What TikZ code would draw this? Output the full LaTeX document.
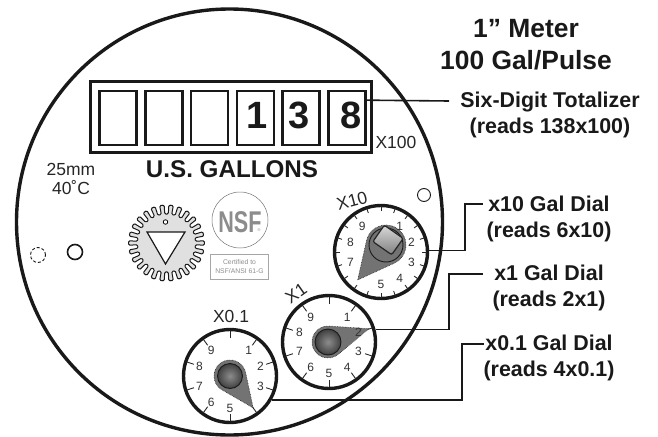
\documentclass[tikz,border=0pt]{standalone}
\usepackage{fontspec}
\setmainfont{Liberation Sans}
\usetikzlibrary{positioning}

\begin{document}
\begin{tikzpicture}[x=1pt,y=-1pt,on grid]

      \tikzset{
        meter/.style={draw={black!90},circle,inner sep=0,minimum size=426pt,line width=3.4pt},
        frame/.style={draw={black!90},rectangle,inner sep=0,minimum width=281pt,minimum height=71pt,line width=2.2pt},
        digitbox/.style={draw={black!90},rectangle,inner sep=0,minimum width=37pt,minimum height=54pt,line width=2.6pt},
        digit/.style={inner sep=0,yshift=2.5pt,font=\fontsize{38}{38}\selectfont\bfseries,text={black!90}},
        dial/.style={draw={black!90},circle,fill=white,inner sep=0,minimum size=93pt,line width=3.4pt},
        dialnum/.style={inner sep=0,font=\fontsize{12}{12}\selectfont,text={black!80}},
        tick/.style={line width=0.9pt,color={black!85}},
        pointer/.style={fill={black!55},draw={black!85},line width=0.6pt,densely dotted},
        hubball/.style={inner color={black!45},outer color={black!75}},
        hole/.style={draw={black!90},circle,inner sep=0,minimum size=15pt,line width=1.6pt},
        leader/.style={line width=1.6pt,color={black!90}},
        plain/.style={inner sep=0,font=\fontsize{17.5}{19}\selectfont,text={black!85},align=center},
        callout/.style={inner sep=0,font=\fontsize{21.4}{26}\selectfont\bfseries,text={black!90},align=center},
        title/.style={inner sep=0,font=\fontsize{26.4}{32}\selectfont\bfseries,text={black!90},align=center},
        nsfgray/.style={text={black!45}}
      }
      \useasboundingbox (0,0) rectangle (658,436);

      \node[meter] (body) at (229.5,222) {};

      % totalizer
      \node[frame] (window) at (231,117) {};
      \node[digitbox] (box1) at (118,118) {};
      \node[digitbox] (box2) [right = 45.8pt of box1] {};
      \node[digitbox] (box3) [right = 45.8pt of box2] {};
      \node[digitbox] (box4) [right = 45.8pt of box3] {};
      \node[digitbox] (box5) [right = 45.8pt of box4] {};
      \node[digitbox] (box6) [right = 45.8pt of box5] {};
      \node[digit] (num1) [right = 2pt of box4] {1};
      \node[digit] (num3) [left = 2pt of box5] {3};
      \node[digit] (num8) [right = 4.5pt of box6] {8};
      \node[plain] (xhundred) at (396,142) {X100};
      \node[inner sep=0,font=\fontsize{24.2}{24}\selectfont\bfseries,text={black!90}] (gallons) at (232,169) {U.S. GALLONS};
      \node[plain] (rating) at (71,179) {25mm\\40˚C};

      % holes
      \node[hole,densely dashed,line width=0.9pt] (holea) at (38,255) {};
      \node[hole] (holeb) at (75,252) {};
      \node[hole,line width=0.9pt,minimum size=13pt] (holec) at (424,195) {};

      % gear mark
      \coordinate (gear) at (166.5,243);
      \filldraw[fill={black!12},draw={black!90},line width=1pt,rounded corners=1.2pt]
        (gear) ++(-3.4:29)
        \foreach \i in {0,...,25} {
          \pgfextra{\pgfmathsetmacro{\a}{\i*360/26}}
          -- ([shift={(\a-3.4:29)}]gear) -- ([shift={(\a-3.4:38)}]gear)
          -- ([shift={(\a+3.4:38)}]gear) -- ([shift={(\a+3.4:29)}]gear)
        } -- cycle;
      \coordinate (triA) at (147,232);
      \coordinate (triB) at (185,232);
      \coordinate (triC) at (165.5,264);
      \filldraw[fill=white,draw={black!90},line width=1.2pt] (triA) -- (triB) -- (triC) -- cycle;
      \node[draw,circle,fill=white,inner sep=0,minimum size=4.5pt,line width=0.8pt] (gearhole) at (165.5,222) {};

      % certification
      \node[draw={black!55},circle,inner sep=0,minimum size=56pt,line width=0.5pt] (nsfring) at (240,220) {};
      \node[nsfgray,inner sep=0,font=\fontsize{30}{30}\selectfont\bfseries,xscale=0.72] (nsf) at (240,222) {NSF};
      \node[nsfgray,inner sep=0,font=\fontsize{4}{4}\selectfont] (nsfmark) at (259,230) {®};
      \node[draw={black!35},rectangle,inner sep=0,minimum width=58pt,minimum height=25pt,line width=0.8pt,
            text={black!45},font=\fontsize{6.8}{9}\selectfont,align=center] (certbox) at (239.5,267) {Certified to\\NSF/ANSI 61-G};

      % dials
      \node[dial] (dialten) at (381,252) {};
      \node[dial] (dialone) at (329,342) {};
      \node[dial] (dialtenth) at (230,376) {};
      \node[plain,rotate=15] (xten) at (352,201) {X10};
      \node[plain,rotate=35] (xone) at (296,293) {X1};
      \node[plain] (xtenth) at (231,316) {X0.1};

      \foreach \a in {0,18,...,342}
        \draw[tick] (dialten.center) ++(\a:41) -- ++(\a:5);
      \foreach \a in {0,36,...,324} {
        \draw[tick] (dialone.center) ++(\a-90:38) -- ++(\a-90:7);
        \draw[tick] (dialtenth.center) ++(\a-90:38) -- ++(\a-90:7);
      }

      % pointers
      \coordinate (hubten) at (386,245);
      \coordinate (hubone) at (328,342);
      \coordinate (hubtenth) at (230,376);
      \foreach \hub/\rad/\ang/\dist in {hubten/20/129/45,hubone/16/-18/43,hubtenth/16/54/39.4} {
        \pgfmathsetmacro{\spread}{acos(\rad/\dist)}
        \filldraw[pointer] ([shift={(\ang:\dist)}]\hub)
          -- ([shift={(\ang+\spread:\rad)}]\hub)
          arc[start angle=\ang+\spread,end angle=\ang+360-\spread,radius=\rad] -- cycle;
      }
      \shade[hubball] (hubone) circle (13);
      \draw[line width=0.9pt,color={black!90}] (hubone) circle (13);
      \shade[hubball] (hubtenth) circle (12.5);
      \draw[line width=0.9pt,color={black!90}] (hubtenth) circle (12.5);
      \draw[line width=0.9pt,color={black!90}] (hubten) circle (17);
      \node[draw={black!85},rectangle,rounded corners=2pt,rotate=-35,inner sep=0,minimum width=23pt,minimum height=20pt,
            line width=1.2pt,top color={black!15},bottom color={black!50}] (window10) at (388,240) {};

      % dial figures
      \foreach \d in {1,2,3,4,5,7,8,9}
        \path (dialten.center) ++(36*\d-90:32) node[dialnum] (ten\d) {\d};
      \foreach \d in {1,...,9}
        \path (dialone.center) ++(36*\d-90:31) node[dialnum] (one\d) {\d};
      \foreach \d in {1,2,3,5,6,7,8,9}
        \path (dialtenth.center) ++(36*\d-90:32) node[dialnum] (tenth\d) {\d};

      % callouts
      \node[title] (heading) at (526,44.5) {1” Meter\\100 Gal/Pulse};
      \node[callout] (lbltotal) at (550,115) {Six-Digit Totalizer\\(reads 138x100)};
      \node[callout] (lblten) at (549,219) {x10 Gal Dial\\(reads 6x10)};
      \node[callout] (lblone) [below = 69pt of lblten] {x1 Gal Dial\\(reads 2x1)};
      \node[callout] (lbltenth) [below = 70pt of lblone] {x0.1 Gal Dial\\(reads 4x0.1)};

      \coordinate (endtotal) at (449,101);
      \coordinate (kneeten) at (465,204);
      \coordinate (endten) at (483,204);
      \coordinate (kneeone) at (449,274);
      \coordinate (endone) at (483,274);
      \coordinate (kneetenth) at (462,344);
      \coordinate (endtenth) at (484,344);

      \draw[leader] (box6.42) -- (endtotal);
      \draw[leader] (dialten.2) -| (kneeten) -- (endten);
      \draw[leader] (dialone.15) -| (kneeone) -- (endone);
      \draw[leader] (dialtenth.-30) -| (kneetenth) -- (endtenth);
    \end{tikzpicture}
\end{document}
